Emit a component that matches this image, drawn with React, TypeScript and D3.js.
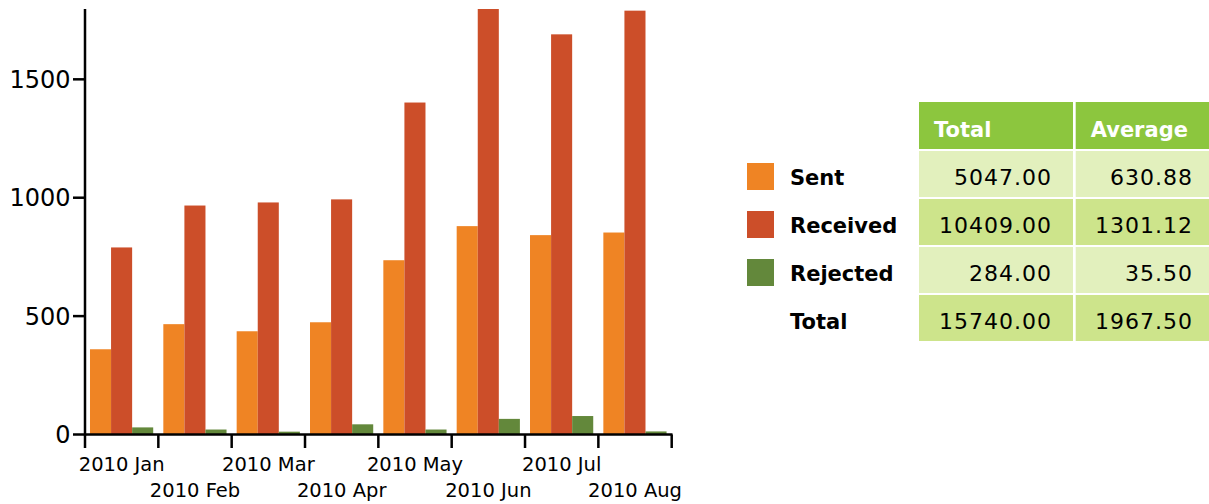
import React from 'react';
import * as d3 from 'd3';

const months = ['2010 Jan', '2010 Feb', '2010 Mar', '2010 Apr', '2010 May', '2010 Jun', '2010 Jul', '2010 Aug'];
const seriesNames = ['Sent', 'Received', 'Rejected'];
const sent = [360, 466, 436, 474, 736, 880, 842, 853];
const received = [790, 967, 980, 993, 1402, 1797, 1690, 1790];
const rejected = [30, 21, 12, 43, 21, 66, 78, 13];
const seriesColors = ['#ef8424', '#cc4e29', '#63883b'];
const yTicks = [0, 500, 1000, 1500];
const tableHeaders = ['Total', 'Average'];
const rowLabels = ['Sent', 'Received', 'Rejected', 'Total'];
const totals = [5047, 10409, 284, 15740];
const averages = [630.88, 1301.12, 35.5, 1967.5];

const FONT = '"DejaVu Sans", sans-serif';

export default function App() {
  const seriesValues = [sent, received, rejected];
  const x0 = d3.scaleBand<string>().domain(months).range([85, 671.7]).padding(0);
  const bw = x0.bandwidth();
  const x1 = d3.scaleBand<string>().domain(seriesNames).range([bw * 0.068, bw * 0.93]);
  const y = d3.scaleLinear().domain([0, d3.max(received) as number]).range([434.5, 9]);

  const colX = [919, 1075.7];
  const colW = [154, 134];
  const headerY = 102;
  const headerH = 47;
  const rowY0 = 151;
  const rowStep = 48;
  const rowH = 46;
  const rowFills = ['#e2f0bd', '#cde48b', '#e2f0bd', '#cde48b'];
  const numRight = [1052, 1193];

  const boundaries = months.map((m) => x0(m) as number).concat([x0.range()[1]]);

  return (
    <svg width={1209} height={504} style={{ position: 'absolute', left: 0, top: 0 }} fontFamily={FONT}>
      <rect width={1209} height={504} fill="#ffffff" />
      {/* bars */}
      {months.map((m, i) => (
        <g key={m}>
          {seriesNames.map((s, j) => {
            const v = seriesValues[j][i];
            return (
              <rect
                key={s}
                x={(x0(m) as number) + (x1(s) as number)}
                y={y(v)}
                width={x1.bandwidth()}
                height={y(0) - y(v)}
                fill={seriesColors[j]}
              />
            );
          })}
        </g>
      ))}
      {/* y axis */}
      <line x1={85} x2={85} y1={9} y2={435.5} stroke="#000" strokeWidth={2.5} />
      {yTicks.map((t) => (
        <g key={t}>
          <line x1={73} x2={85} y1={y(t)} y2={y(t)} stroke="#000" strokeWidth={2.5} />
          <text x={70.5} y={y(t)} dy="0.36em" textAnchor="end" fontSize={24} fill="#000">
            {t}
          </text>
        </g>
      ))}
      {/* x axis */}
      <line x1={85} x2={672.5} y1={434.5} y2={434.5} stroke="#000" strokeWidth={2.5} />
      {boundaries.map((b, i) => (
        <line key={i} x1={b} x2={b} y1={434.5} y2={448} stroke="#000" strokeWidth={2.5} />
      ))}
      {months.map((m, i) => (
        <text
          key={m}
          x={(x0(m) as number) + bw / 2}
          y={i % 2 === 0 ? 470.7 : 497.3}
          textAnchor="middle"
          fontSize={19.5}
          fill="#000"
        >
          {m}
        </text>
      ))}
      {/* table header */}
      {tableHeaders.map((h, c) => (
        <g key={h}>
          <rect x={colX[c]} y={headerY} width={colW[c]} height={headerH} fill="#8cc63e" />
          <text x={colX[c] + 15} y={136.5} fontSize={21} fontWeight="bold" fill="#ffffff">
            {h}
          </text>
        </g>
      ))}
      {/* table rows */}
      {rowLabels.map((r, i) => {
        const ry = rowY0 + i * rowStep;
        const base = 184.5 + i * rowStep;
        return (
          <g key={r}>
            {i < 3 && (
              <rect x={747} y={163 + i * rowStep} width={27} height={27} fill={seriesColors[i]} />
            )}
            <text x={790} y={base} fontSize={21} fontWeight="bold" fill="#000">
              {r}
            </text>
            {[totals[i], averages[i]].map((v, c) => (
              <g key={c}>
                <rect x={colX[c]} y={ry} width={colW[c]} height={rowH} fill={rowFills[i]} />
                <text
                  x={numRight[c]}
                  y={base}
                  textAnchor="end"
                  fontSize={22}
                  letterSpacing={1}
                  fill="#000"
                >
                  {v.toFixed(2)}
                </text>
              </g>
            ))}
          </g>
        );
      })}
    </svg>
  );
}
